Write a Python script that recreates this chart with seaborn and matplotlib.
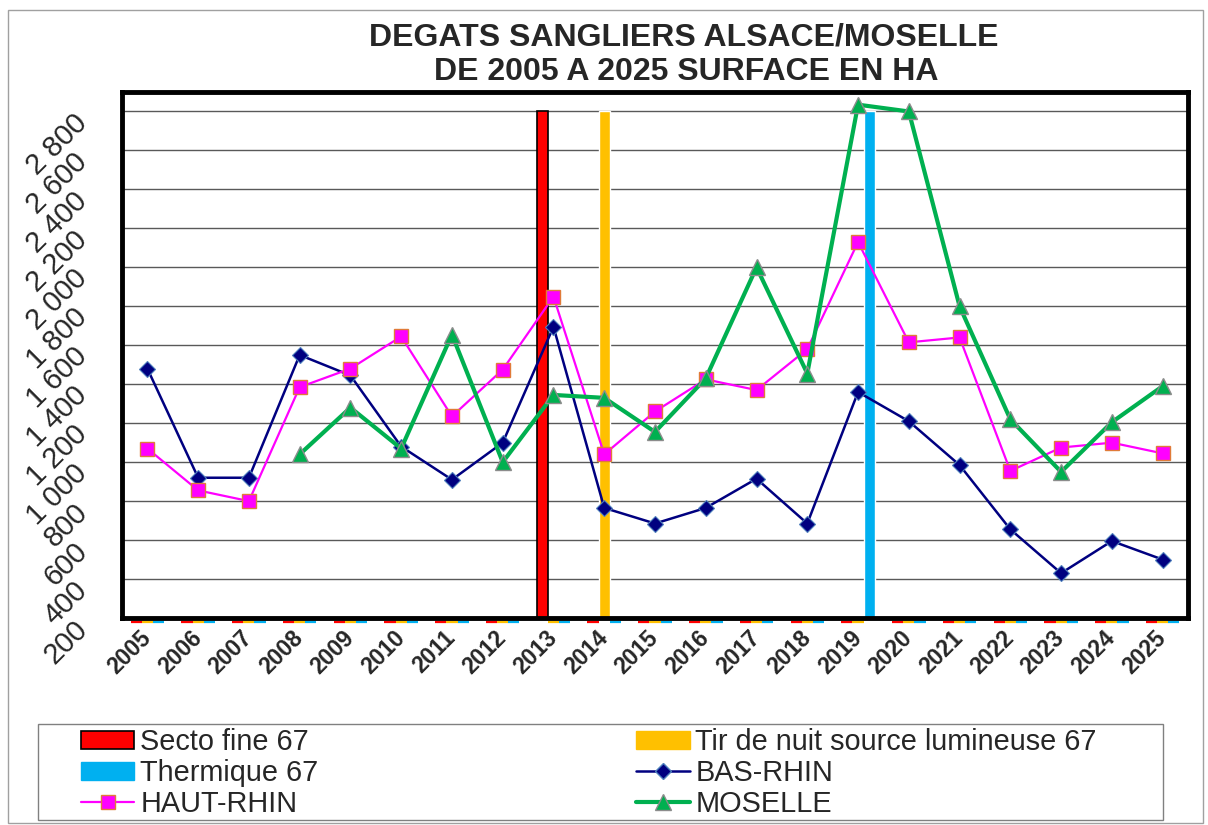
import matplotlib
matplotlib.use("Agg")
import matplotlib.pyplot as plt
import matplotlib.transforms as mtransforms
import seaborn as sns
import numpy as np
import pandas as pd
from matplotlib.lines import Line2D
from matplotlib.patches import Patch, Rectangle
from matplotlib.ticker import FixedLocator, NullFormatter

# data (surface in ha)
years = ["2005", "2006", "2007", "2008", "2009", "2010", "2011", "2012", "2013", "2014", "2015",
         "2016", "2017", "2018", "2019", "2020", "2021", "2022", "2023", "2024", "2025"]
bas_rhin = [1480, 920, 920, 1550, 1445, 1080, 910, 1100, 1695, 765, 685,
            765, 915, 685, 1360, 1210, 985, 655, 430, 595, 500]
haut_rhin = [1070, 855, 800, 1385, 1480, 1645, 1235, 1475, 1850, 1040, 1260,
             1425, 1370, 1580, 2130, 1615, 1640, 955, 1075, 1100, 1045]
moselle = [np.nan, np.nan, np.nan, 1040, 1280, 1070, 1655, 1000, 1345, 1330, 1155,
           1430, 2000, 1455, 2835, 2800, 1800, 1220, 950, 1205, 1390]
# vertical markers (bars) for the regulatory measures
secto_fine = [0, 0, 0, 0, 0, 0, 0, 0, 2800, 0, 0, 0, 0, 0, 0, 0, 0, 0, 0, 0, 0]
tir_nuit = [0, 0, 0, 0, 0, 0, 0, 0, 0, 2800, 0, 0, 0, 0, 0, 0, 0, 0, 0, 0, 0]
thermique = [0, 0, 0, 0, 0, 0, 0, 0, 0, 0, 0, 0, 0, 0, 2800, 0, 0, 0, 0, 0, 0]
bar_names = ["Secto fine 67", "Tir de nuit source lumineuse 67", "Thermique 67"]
y_ticks = [200, 400, 600, 800, 1000, 1200, 1400, 1600, 1800, 2000, 2200, 2400, 2600, 2800]

RED, YELLOW, BLUE = "#FF0000", "#FFC000", "#00B0F0"
NAVY, MAGENTA, GREEN = "#000080", "#FF00FF", "#00B050"
Y_MIN, Y_MAX = 200, 2900

sns.set_style("white")
plt.rcParams["font.family"] = ["Liberation Sans", "DejaVu Sans"]

W, H = 1208, 825
fig = plt.figure(figsize=(W / 100, H / 100), dpi=100)
ax = fig.add_axes([122 / W, 1 - 618 / H, 1066 / W, 526 / H])

pos = np.arange(len(years))

bars = pd.DataFrame({
    "pos": np.concatenate([pos, pos, pos]),
    "mesure": [bar_names[0]] * len(years) + [bar_names[1]] * len(years) + [bar_names[2]] * len(years),
    "valeur": secto_fine + tir_nuit + thermique,
})
sns.barplot(data=bars, x="pos", y="valeur", hue="mesure", hue_order=bar_names,
            palette=[RED, YELLOW, BLUE], width=0.66, saturation=1, errorbar=None,
            legend=False, ax=ax, zorder=2)

# empty bars show as small coloured dashes just under the axis, like in Excel
px = (Y_MAX - Y_MIN) / 526.0
for p in ax.patches:
    fc = p.get_facecolor()
    if p.get_height() > 0:
        if fc[:3] == (1.0, 0.0, 0.0):
            p.set_edgecolor("black")
            p.set_linewidth(1.2)
    else:
        p.set_y(Y_MIN - 3.5 * px)
        p.set_edgecolor(fc)
        p.set_linewidth(1.6)
        p.set_clip_on(False)

sns.lineplot(x=pos, y=bas_rhin, color=NAVY, linewidth=1.8, marker="D", markersize=8,
             markeredgecolor="#4F81BD", markeredgewidth=0.8, ax=ax, zorder=4)
sns.lineplot(x=pos, y=haut_rhin, color=MAGENTA, linewidth=1.6, marker="s", markersize=10,
             markeredgecolor="#E07B39", markeredgewidth=1.0, ax=ax, zorder=4)
sns.lineplot(x=pos, y=moselle, color=GREEN, linewidth=3, marker="^", markersize=11,
             markeredgecolor="#8C8C8C", markeredgewidth=1.0, ax=ax, zorder=4)

ax.set_xlim(-0.5, len(years) - 0.5)
ax.set_ylim(Y_MIN, Y_MAX)
ax.set_xlabel("")
ax.set_ylabel("")

# y axis: grid + ticks, labels drawn rotated to the lower left of each tick
ax.yaxis.set_major_locator(FixedLocator(y_ticks))
ax.yaxis.set_major_formatter(NullFormatter())
ax.grid(axis="y", color="#595959", linewidth=1.0)
ax.set_axisbelow(True)
ax.tick_params(axis="y", which="major", length=8, width=1, color="#808080")
lab_tr = ax.get_yaxis_transform() + mtransforms.ScaledTranslation(-39 / 100, -7 / 100,
                                                                  fig.dpi_scale_trans)
for v in y_ticks:
    ax.text(0, v, f"{v:,}".replace(",", " "), transform=lab_tr, rotation=45,
            rotation_mode="anchor", ha="right", va="center", fontsize=21, clip_on=False)

# x axis: labels at categories, tick marks between categories
ax.set_xticks(pos)
ax.set_xticklabels(years)
ax.set_xticks(np.arange(len(years) + 1) - 0.5, minor=True)
ax.tick_params(axis="x", which="major", length=0, pad=12, labelsize=16.5)
ax.tick_params(axis="x", which="minor", length=8, width=1, color="#808080")
for lab in ax.get_xticklabels():
    lab.set_rotation(45)
    lab.set_ha("right")
    lab.set_va("center")
    lab.set_rotation_mode("anchor")
    lab.set_fontweight("bold")

for s in ax.spines.values():
    s.set_visible(True)
    s.set_color("black")
    s.set_linewidth(3.5)

# title
fig.text(684 / W, 1 - 37 / H, "DEGATS SANGLIERS ALSACE/MOSELLE", ha="center", va="center",
         fontsize=23, fontweight="bold")
fig.text(686 / W, 1 - 72 / H, "DE 2005 A 2025 SURFACE EN HA", ha="center", va="center",
         fontsize=23, fontweight="bold")

# legend (row-major order in the reference -> reorder for matplotlib's column filling)
handles = [
    Patch(facecolor=RED, edgecolor="black", linewidth=1.2, label=bar_names[0]),
    Patch(facecolor=BLUE, edgecolor=BLUE, label=bar_names[2]),
    Line2D([], [], color=MAGENTA, lw=1.6, marker="s", markersize=10,
           markeredgecolor="#E07B39", label="HAUT-RHIN"),
    Patch(facecolor=YELLOW, edgecolor=YELLOW, label=bar_names[1]),
    Line2D([], [], color=NAVY, lw=1.8, marker="D", markersize=8,
           markeredgecolor="#4F81BD", label="BAS-RHIN"),
    Line2D([], [], color=GREEN, lw=3, marker="^", markersize=11,
           markeredgecolor="#8C8C8C", label="MOSELLE"),
]
fig.legend(handles=handles, ncol=2, loc="upper left", bbox_to_anchor=(81 / W, 1 - 728 / H),
           frameon=False, fontsize=20.8, handlelength=1.85, handleheight=0.6,
           handletextpad=0.2, labelspacing=0.1, columnspacing=11.0, borderpad=0,
           borderaxespad=0)
fig.add_artist(Rectangle((38 / W, 1 - 820 / H), (1163 - 38) / W, (820 - 724) / H,
                         transform=fig.transFigure, fill=False, edgecolor="#808080", lw=1))
fig.add_artist(Rectangle((8 / W, 2 / H), (1203 - 8) / W, (823 - 10) / H,
                         transform=fig.transFigure, fill=False, edgecolor="#A0A0A0", lw=1))

fig.savefig("out.png", dpi=100)
